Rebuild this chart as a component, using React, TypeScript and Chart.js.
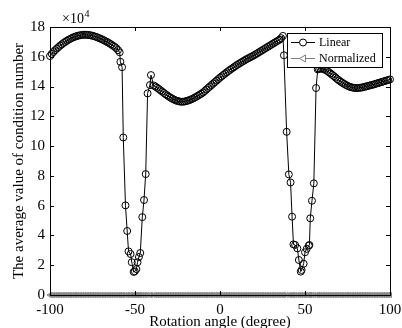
import React, { useEffect, useRef } from "react";
import { Chart, registerables } from "chart.js";

Chart.register(...registerables);

// Rotation angles (degree) at which the condition number was evaluated
const linearAngles = [
  -100, -99, -98, -97, -96, -95, -94, -93, -92, -91,
  -90, -89, -88, -87, -86, -85, -84, -83, -82, -81,
  -80, -79, -78, -77, -76, -75, -74, -73, -72, -71,
  -70, -69, -68, -67, -66, -65, -64, -63, -62, -61,
  -60, -59,
  -58.6, -57.6, -56.9, -55.6, -54.6, -53.8, -52.6, -51.9, -50.8, -50.1,
  -49.2, -48.5, -47.7, -46.9, -45.7, -44.7, -43.7, -42.6, -41.2, -40.6,
  -39, -38, -37, -36, -35, -34, -33, -32, -31, -30,
  -29, -28, -27, -26, -25, -24, -23, -22, -21, -20,
  -19, -18, -17, -16, -15, -14, -13, -12, -11, -10,
  -9, -8, -7, -6, -5, -4, -3, -2, -1, 0,
  1, 2, 3, 4, 5, 6, 7, 8, 9, 10,
  11, 12, 13, 14, 15, 16, 17, 18, 19, 20,
  21, 22, 23, 24, 25, 26, 27, 28, 29, 30,
  31, 32, 33, 34, 35, 36, 37,
  37.6, 39.2, 40.5, 41.5, 42.4, 43.2, 44.2, 45.5, 46.4, 47.5,
  48.0, 49.2, 50.0, 51.0, 52.2, 52.6, 53.1, 54.1, 55.2, 56.5, 57.5,
  58, 59, 60, 61, 62, 63, 64, 65, 66, 67,
  68, 69, 70, 71, 72, 73, 74, 75, 76, 77,
  78, 79, 80, 81, 82, 83, 84, 85, 86, 87,
  88, 89, 90, 91, 92, 93, 94, 95, 96, 97,
  98, 99, 100,
];

// Average condition number, Linear (in units of 10^4)
const linearValues = [
  16.05, 16.2, 16.32, 16.44, 16.55, 16.65, 16.75, 16.84, 16.93, 17.0,
  17.08, 17.15, 17.21, 17.27, 17.32, 17.36, 17.4, 17.43, 17.45, 17.47,
  17.48, 17.48, 17.47, 17.46, 17.44, 17.41, 17.38, 17.34, 17.3, 17.25,
  17.2, 17.15, 17.09, 17.03, 16.97, 16.9, 16.83, 16.75, 16.67, 16.58,
  16.45, 16.3,
  15.66, 15.3, 10.58, 6.02, 4.3, 2.93, 2.75, 2.2, 1.55, 1.59,
  1.74, 2.2, 2.55, 2.82, 5.23, 6.38, 8.12, 13.54, 14.1, 14.77,
  14.07, 14.0, 13.92, 13.84, 13.75, 13.66, 13.57, 13.48, 13.4, 13.32,
  13.25, 13.18, 13.12, 13.07, 13.03, 13.0, 12.98, 12.98, 12.99, 13.02,
  13.05, 13.09, 13.14, 13.19, 13.25, 13.31, 13.38, 13.45, 13.52, 13.6,
  13.7, 13.8, 13.9, 14.0, 14.1, 14.2, 14.3, 14.4, 14.5, 14.6,
  14.69, 14.78, 14.87, 14.96, 15.05, 15.13, 15.21, 15.29, 15.37, 15.45,
  15.52, 15.59, 15.66, 15.73, 15.8, 15.86, 15.92, 15.98, 16.04, 16.1,
  16.17, 16.24, 16.31, 16.38, 16.45, 16.52, 16.59, 16.66, 16.73, 16.8,
  16.87, 16.94, 17.01, 17.08, 17.15, 17.25, 17.4,
  16.1, 10.96, 8.1, 7.56, 5.26, 3.4, 3.36, 3.13, 2.35, 1.57,
  1.68, 2.1, 2.87, 3.1, 3.31, 3.36, 5.15, 6.33, 7.5, 13.9, 15.15,
  15.2, 15.2, 15.2, 15.17, 15.12, 15.05, 14.97, 14.88, 14.79, 14.7,
  14.6, 14.5, 14.41, 14.33, 14.25, 14.18, 14.11, 14.05, 14.0, 13.96,
  13.93, 13.91, 13.9, 13.9, 13.91, 13.93, 13.95, 13.98, 14.01, 14.04,
  14.07, 14.1, 14.13, 14.16, 14.2, 14.23, 14.27, 14.3, 14.34, 14.37,
  14.41, 14.44, 14.48,
];

// Average condition number, Normalized (in units of 10^4, essentially zero)
const normalizedValues = [
  0, 0, 0, 0, 0, 0, 0, 0, 0, 0,
  0, 0, 0, 0, 0, 0, 0, 0, 0, 0,
  0, 0, 0, 0, 0, 0, 0, 0, 0, 0,
  0, 0, 0, 0, 0, 0, 0, 0, 0, 0,
  0, 0,
  0, 0, 0, 0, 0, 0, 0, 0, 0, 0,
  0, 0, 0, 0, 0, 0, 0, 0, 0, 0,
  0, 0, 0, 0, 0, 0, 0, 0, 0, 0,
  0, 0, 0, 0, 0, 0, 0, 0, 0, 0,
  0, 0, 0, 0, 0, 0, 0, 0, 0, 0,
  0, 0, 0, 0, 0, 0, 0, 0, 0, 0,
  0, 0, 0, 0, 0, 0, 0, 0, 0, 0,
  0, 0, 0, 0, 0, 0, 0, 0, 0, 0,
  0, 0, 0, 0, 0, 0, 0, 0, 0, 0,
  0, 0, 0, 0, 0, 0, 0,
  0, 0, 0, 0, 0, 0, 0, 0, 0, 0,
  0, 0, 0, 0, 0, 0, 0, 0, 0, 0, 0,
  0, 0, 0, 0, 0, 0, 0, 0, 0, 0,
  0, 0, 0, 0, 0, 0, 0, 0, 0, 0,
  0, 0, 0, 0, 0, 0, 0, 0, 0, 0,
  0, 0, 0, 0, 0, 0, 0, 0, 0, 0,
  0, 0, 0,
];

const seriesNames = ["Linear", "Normalized"];
const xTickValues = [-100, -50, 0, 50, 100];
const yTickValues = [0, 2, 4, 6, 8, 10, 12, 14, 16, 18];
const xTitle = "Rotation angle (degree)";
const yTitle = "The average value of condition number";
const yExponentBase = "\u00d710";
const yExponent = "4";

const SERIF = "'Times New Roman', 'Liberation Serif', Times, serif";
const GRAY = "#7f7f7f";

const frameAndLegend = {
  id: "frameAndLegend",
  afterDatasetsDraw(chart: any) {
    const { ctx, chartArea } = chart;
    const { left, right, top, bottom } = chartArea;
    const xs = chart.scales.x;
    const ys = chart.scales.y;
    ctx.save();
    // box
    ctx.strokeStyle = "#000";
    ctx.lineWidth = 1;
    ctx.strokeRect(Math.round(left) + 0.5, Math.round(top) + 0.5, Math.round(right - left), Math.round(bottom - top));
    // inward tick marks
    const tl = 4;
    ctx.beginPath();
    xTickValues.forEach((v) => {
      const px = Math.round(xs.getPixelForValue(v)) + 0.5;
      ctx.moveTo(px, bottom);
      ctx.lineTo(px, bottom - tl);
      ctx.moveTo(px, top);
      ctx.lineTo(px, top + tl);
    });
    yTickValues.forEach((v) => {
      const py = Math.round(ys.getPixelForValue(v)) + 0.5;
      ctx.moveTo(left, py);
      ctx.lineTo(left + tl, py);
      ctx.moveTo(right, py);
      ctx.lineTo(right - tl, py);
    });
    ctx.stroke();

    // exponent label
    ctx.fillStyle = "#000";
    ctx.textBaseline = "alphabetic";
    ctx.textAlign = "left";
    ctx.font = `14px ${SERIF}`;
    ctx.fillText(yExponentBase, left + 12, top - 4);
    const w = ctx.measureText(yExponentBase).width;
    ctx.font = `10px ${SERIF}`;
    ctx.fillText(yExponent, left + 12 + w + 0.5, top - 10);

    // legend
    const lx = Math.round(right) - 103;
    const ly = Math.round(top) + 6;
    const lw = 95;
    const lh = 34;
    ctx.fillStyle = "#fff";
    ctx.fillRect(lx + 0.5, ly + 0.5, lw, lh);
    ctx.strokeStyle = "#000";
    ctx.strokeRect(lx + 0.5, ly + 0.5, lw, lh);
    const rows = [ly + 9.5, ly + 25.5];
    const colors = ["#000", GRAY];
    ctx.font = `12px ${SERIF}`;
    ctx.textBaseline = "middle";
    seriesNames.forEach((name, i) => {
      const y = rows[i];
      ctx.strokeStyle = colors[i];
      ctx.lineWidth = 1;
      ctx.beginPath();
      ctx.moveTo(lx + 4, y);
      ctx.lineTo(lx + 28, y);
      ctx.stroke();
      const mx = lx + 16;
      ctx.beginPath();
      if (i === 0) {
        ctx.arc(mx, y, 3.5, 0, Math.PI * 2);
      } else {
        ctx.moveTo(mx - 3.5, y);
        ctx.lineTo(mx + 2.5, y - 3.5);
        ctx.lineTo(mx + 2.5, y + 3.5);
        ctx.closePath();
      }
      ctx.fillStyle = "#fff";
      ctx.fill();
      ctx.stroke();
      ctx.fillStyle = "#000";
      ctx.fillText(name, lx + 32, y + 0.5);
    });
    ctx.restore();
  },
};

export default function App() {
  const canvasRef = useRef<HTMLCanvasElement | null>(null);

  useEffect(() => {
    const canvas = canvasRef.current;
    if (!canvas) return;
    const linearData = linearAngles.map((x, i) => ({ x, y: linearValues[i] }));
    const normalizedData = linearAngles.map((x, i) => ({ x, y: normalizedValues[i] }));
    const tickFont = { family: SERIF, size: 15 };
    const xTickFont = { family: SERIF, size: 15, lineHeight: 2.0 };
    const titleFont = { family: SERIF, size: 15, lineHeight: 0.85 };
    const chart = new Chart(canvas, {
      type: "line",
      data: {
        datasets: [
          {
            label: seriesNames[0],
            data: linearData,
            borderColor: "#000",
            borderWidth: 1,
            pointStyle: "circle",
            pointRadius: 3.5,
            pointBorderColor: "#000",
            pointBackgroundColor: "rgba(0,0,0,0)",
            pointBorderWidth: 1,
            fill: false,
            tension: 0,
            clip: false,
          },
          {
            label: seriesNames[1],
            data: normalizedData,
            borderColor: GRAY,
            borderWidth: 1,
            pointStyle: "triangle",
            rotation: -90,
            pointRadius: 3,
            pointBorderColor: GRAY,
            pointBackgroundColor: "rgba(0,0,0,0)",
            pointBorderWidth: 1,
            fill: false,
            tension: 0,
            clip: false,
          },
        ],
      },
      options: {
        animation: false,
        responsive: false,
        maintainAspectRatio: false,
        devicePixelRatio: 1,
        layout: { padding: { top: 27, right: 12, left: 0, bottom: 0 } },
        plugins: {
          legend: { display: false },
          tooltip: { enabled: false },
        },
        scales: {
          x: {
            type: "linear",
            position: "bottom",
            min: -100,
            max: 100,
            afterBuildTicks: (s: any) => {
              s.ticks = xTickValues.map((v) => ({ value: v }));
            },
            ticks: {
              font: xTickFont,
              color: "#000",
              padding: 0,
              maxRotation: 0,
              autoSkip: false,
            },
            grid: { display: false, drawTicks: false },
            border: { display: false },
            title: {
              display: true,
              text: xTitle,
              font: titleFont,
              color: "#000",
              padding: 0,
            },
            afterFit: (s: any) => {
              s.height = 33;
            },
          },
          y: {
            type: "linear",
            position: "left",
            min: 0,
            max: 18,
            afterBuildTicks: (s: any) => {
              s.ticks = yTickValues.map((v) => ({ value: v }));
            },
            ticks: {
              font: tickFont,
              color: "#000",
              padding: 5,
              autoSkip: false,
            },
            grid: { display: false, drawTicks: false },
            border: { display: false },
            title: {
              display: true,
              text: yTitle,
              font: tickFont,
              color: "#000",
              padding: { top: 10, bottom: 0 },
            },
            afterFit: (s: any) => {
              s.width = 50;
            },
          },
        },
      },
      plugins: [frameAndLegend],
    });
    return () => chart.destroy();
  }, []);

  return (
    <div style={{ position: "absolute", left: 0, top: 0, width: 402, height: 328, background: "#fff" }}>
      <canvas ref={canvasRef} width={402} height={328} style={{ display: "block", width: 402, height: 328 }} />
    </div>
  );
}
